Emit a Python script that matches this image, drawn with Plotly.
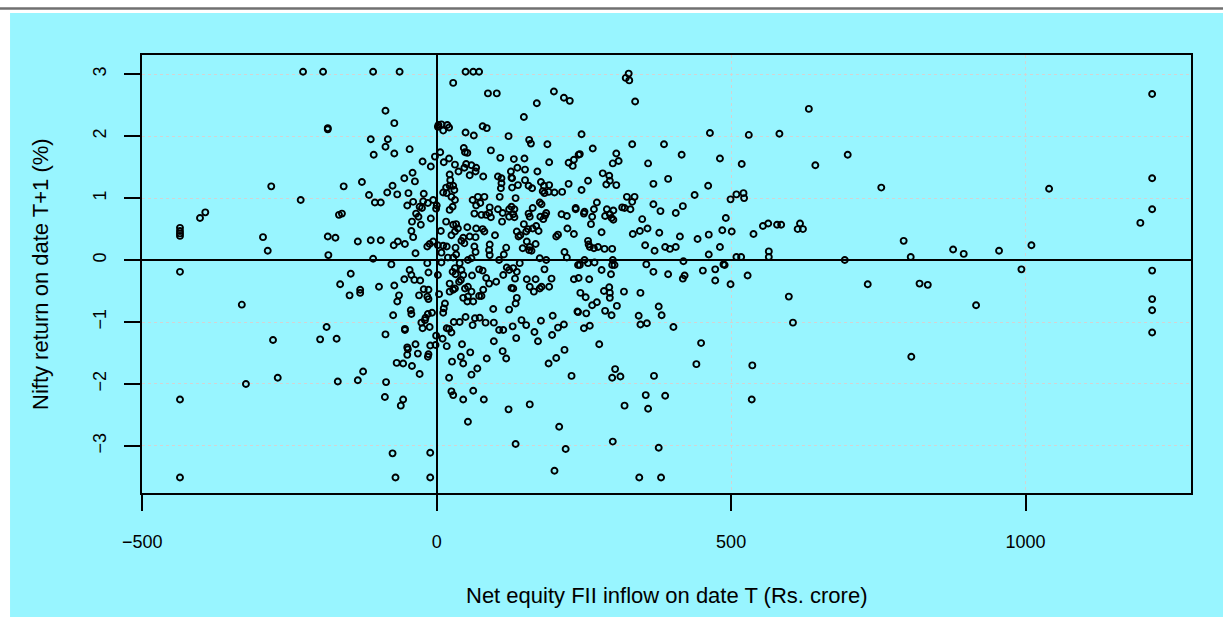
import plotly.graph_objects as go

# Net equity FII inflow on date T (Rs. crore)
inflow = [
    -227, -193, -108, -63, -87, -72, -185, -185, -112, -83,
    -87, -46, -107, -72, -3, -24, -10, -41, -55, -37,
    -127, -75, -281, -158, -84, -115, -67, -48, -22, -231,
    -105, -95, -40, -50, -23, -6, -29, -25, -15, -1,
    -35, -31, -10, -166, -161, -402, -393, -436, -436, -436,
    -436, -42, -27, -43, -40, -295, -185, -172, -134, -112,
    -95, -66, -54, -73, -16, -12, -6, -287, -36, 8,
    -184, -108, -436, -77, -16, -46, -43, -146, -14, -55,
    -38, -28, -164, -98, -72, -22, -14, -130, -130, -148,
    -64, -30, -16, -14, -67, -331, -44, -43, -74, -8,
    -15, -19, -20, -26, -24, -12, -187, -54, -54, -87,
    -1, -278, -198, -170, -36, -50, -49, -11, -2, -32,
    -50, -14, -15, -68, -57, -42, -125, -29, -270, -134,
    -168, -86, -324, -88, -57, -61, -436, -75, -11, -436,
    -70, -11, 49, 62, 72, 28, 87, 102, 199, 216,
    226, 170, 148, 2, 3, 8, 11, 18, 21, 78,
    85, 49, 63, 122, 157, 160, 188, 46, 48, 52,
    6, 92, 108, 21, 12, 131, 149, 191, 241, 224,
    233, 231, 31, 50, 59, 47, 67, 137, 150, 126,
    127, 37, 66, 56, 79, 171, 22, 23, 22, 104,
    110, 110, 109, 128, 128, 138, 150, 156, 162, 177,
    182, 191, 224, 16, 28, 30, 180, 183, 190, 200,
    213, 11, 17, 25, 0, 31, 27, 22, 61, 70,
    74, 67, 64, 81, 107, 134, 175, 178, 90, 104,
    89, 92, 84, 76, 112, 123, 127, 132, 130, 123,
    132, 156, 163, 158, 176, 184, 186, 181, 212, 221,
    236, 236, 16, 28, 33, 31, 25, 36, 45, 42,
    47, 7, 52, 67, 56, 66, 78, 81, 99, 111,
    136, 142, 139, 152, 155, 163, 173, 169, 148, 203,
    206, 222, 233, 2, 11, 17, 32, 33,
    64, 66, 90, 89, 118, 114, 106, 146, 153, 158,
    157, 161, 168, 175, 186, 217, 221, 19, 28, 53, 90,
    8, 39, 59, 141, 2, 4, 31, 27, 42, 32,
    45, 41, 38, 31, 28, 22, 22, 60, 72, 78,
    84, 89, 101, 79, 72, 76, 62, 53, 52, 45,
    48, 53, 59, 14, 12, 11, 123, 119, 130, 136,
    133, 127, 130, 136, 134, 123, 113, 153, 168, 195,
    158, 165, 175, 178, 191, 183, 233, 240, 96, 49,
    61, 73, 39, 29, 21, 17, 25, 65, 83, 97,
    97, 129, 106, 113, 135, 144, 152, 166, 177, 172,
    197, 196, 206, 216, 239, 10, 17, 43, 57, 41,
    45, 26, 85, 69, 59, 112, 118, 190, 203, 217,
    229, 21, 25, 28, 45, 62, 80, 122, 158, 53,
    208, 134, 219, 200, 326, 321, 327, 337, 246, 464,
    265, 332, 386, 243, 305, 309, 299, 359, 416, 481,
    282, 293, 288, 305, 294, 257, 246, 368, 393, 461,
    438, 323, 336, 332, 272, 368, 418, 267, 251, 250,
    289, 300, 315, 319, 329, 380, 406, 264, 262, 286,
    297, 300, 294, 349, 280, 333, 345, 358, 378, 413,
    443, 462, 485, 257, 258, 260, 267, 274, 285, 298,
    354, 370, 388, 396, 406, 481, 462, 251, 243, 257,
    268, 299, 298, 302, 356, 368, 393, 419, 421, 418,
    452, 473, 473, 487, 280, 296, 259, 241, 244, 253,
    264, 272, 240, 254, 284, 293, 294, 294, 318, 306,
    286, 297, 346, 377, 382, 343, 346, 357, 402, 250,
    260, 276, 449, 441, 303, 298, 312, 369, 355, 388,
    319, 359, 299, 377, 344, 381, 1215, 632, 530, 582,
    698, 518, 643, 755, 1040, 1215, 1215, 1195, 509, 521,
    522, 499, 491, 501, 538, 554, 563, 578, 585, 613,
    617, 622, 509, 517, 564, 564, 693, 793, 805, 877,
    895, 955, 1010, 993, 1215, 489, 528, 499, 598, 605,
    732, 820, 834, 916, 1215, 1215, 1215, 806, 536, 535,
]

# Nifty return on date T+1 (%)
nifty_return = [
    3.04, 3.04, 3.04, 3.04, 2.41, 2.21, 2.13, 2.11, 1.95, 1.95,
    1.83, 1.79, 1.70, 1.72, 1.67, 1.59, 1.51, 1.41, 1.32, 1.27,
    1.26, 1.20, 1.19, 1.19, 1.09, 1.05, 1.06, 1.08, 1.07, 0.97,
    0.93, 0.93, 0.94, 0.88, 0.95, 0.97, 0.86, 0.84, 0.92, 0.83,
    0.75, 0.70, 0.67, 0.73, 0.75, 0.68, 0.77, 0.52, 0.47, 0.43,
    0.39, 0.62, 0.57, 0.47, 0.37, 0.37, 0.38, 0.36, 0.30, 0.32,
    0.32, 0.30, 0.26, 0.24, 0.22, 0.26, 0.30, 0.15, 0.11, 0.12,
    0.08, 0.02, -0.19, -0.07, -0.05, -0.16, -0.24, -0.22, -0.20, -0.31,
    -0.32, -0.33, -0.39, -0.43, -0.41, -0.47, -0.48, -0.48, -0.53, -0.57,
    -0.57, -0.57, -0.59, -0.63, -0.67, -0.72, -0.81, -0.87, -0.89, -0.85,
    -0.87, -0.93, -0.97, -1.01, -1.10, -1.08, -1.08, -1.11, -1.13, -1.20,
    -1.22, -1.29, -1.28, -1.27, -1.36, -1.41, -1.44, -1.38, -1.37, -1.51,
    -1.53, -1.52, -1.56, -1.66, -1.67, -1.71, -1.80, -1.84, -1.90, -1.94,
    -1.96, -1.97, -2.00, -2.21, -2.25, -2.35, -2.25, -3.12, -3.11, -3.51,
    -3.51, -3.51, 3.04, 3.04, 3.04, 2.86, 2.69, 2.69, 2.72, 2.62,
    2.57, 2.53, 2.31, 2.15, 2.18, 2.19, 2.09, 2.18, 2.14, 2.16,
    2.13, 2.06, 2.01, 2.00, 1.94, 1.88, 1.87, 1.81, 1.74, 1.73,
    1.74, 1.77, 1.65, 1.64, 1.58, 1.63, 1.64, 1.58, 1.70, 1.57,
    1.62, 1.52, 1.54, 1.55, 1.53, 1.49, 1.49, 1.49, 1.46, 1.43,
    1.33, 1.43, 1.43, 1.37, 1.35, 1.43, 1.38, 1.29, 1.20, 1.35,
    1.32, 1.24, 1.16, 1.32, 1.17, 1.21, 1.29, 1.20, 1.16, 1.26,
    1.20, 1.21, 1.23, 1.17, 1.20, 1.13, 1.11, 1.08, 1.10, 1.09,
    1.10, 1.09, 1.08, 1.02, 0.88, 0.97, 0.86, 0.81, 0.97, 1.02,
    0.92, 0.88, 0.75, 1.02, 1.02, 1.00, 0.93, 0.90, 0.85, 0.82,
    0.76, 0.69, 0.73, 0.73, 0.76, 0.82, 0.86, 0.82, 0.74, 0.70,
    0.69, 0.75, 0.84, 0.70, 0.70, 0.72, 0.76, 0.66, 0.74, 0.71,
    0.82, 0.84, 0.62, 0.57, 0.58, 0.46, 0.40, 0.51, 0.36, 0.31,
    0.27, 0.47, 0.53, 0.51, 0.38, 0.37, 0.50, 0.46, 0.40, 0.62,
    0.46, 0.40, 0.38, 0.46, 0.50, 0.51, 0.47, 0.55, 0.58, 0.38,
    0.41, 0.51, 0.42, 0.24, 0.23, 0.22, 0.20, 0.09,
    0.22, 0.13, 0.25, 0.16, 0.20, 0.09, 0.00, 0.19, 0.30, 0.21,
    0.16, 0.15, 0.26, 0.03, 0.00, 0.13, 0.04, 0.04, 0.04, 0.00, 0.08,
    -0.04, -0.05, 0.03, -0.05, -0.24, -0.55, -0.13, -0.19, -0.16, -0.23,
    -0.24, -0.32, -0.35, -0.46, -0.48, -0.51, -0.38, -0.25, -0.15, -0.17,
    -0.29, -0.38, -0.35, -0.48, -0.58, -0.58, -0.67, -0.59, -0.67, -0.61,
    -0.46, -0.43, -0.51, -0.70, -0.78, -0.85, -0.16, -0.12, -0.13, -0.19,
    -0.30, -0.45, -0.46, -0.61, -0.70, -0.80, -0.24, -0.31, -0.31, -0.30,
    -0.43, -0.51, -0.46, -0.43, -0.43, -0.15, -0.31, -0.08, -0.79, -0.92,
    -1.05, -0.93, -1.00, -1.00, -1.11, -1.10, -1.17, -0.94, -1.01, -1.01,
    -1.31, -1.07, -1.13, -1.13, -1.26, -0.97, -1.05, -1.16, -0.98, -1.31,
    -0.90, -1.21, -1.09, -1.04, -0.83, -1.27, -1.39, -1.36, -1.49, -1.56,
    -1.67, -1.64, -1.59, -1.75, -1.85, -1.47, -1.59, -1.67, -1.58, -1.45,
    -1.87, -1.90, -2.12, -2.18, -2.25, -2.11, -2.25, -2.41, -2.33, -2.61,
    -2.69, -2.97, -3.05, -3.40, 3.01, 2.94, 2.90, 2.56, 2.03, 2.05,
    1.80, 1.87, 1.87, 1.71, 1.72, 1.60, 1.56, 1.56, 1.70, 1.64,
    1.40, 1.36, 1.22, 1.21, 1.28, 1.28, 1.13, 1.23, 1.31, 1.20,
    1.05, 1.02, 1.02, 0.94, 0.93, 0.90, 0.87, 0.82, 0.78, 0.75,
    0.82, 0.80, 0.85, 0.84, 0.82, 0.79, 0.76, 0.70, 0.58, 0.71,
    0.68, 0.65, 0.74, 0.66, 0.45, 0.42, 0.47, 0.51, 0.44, 0.38,
    0.34, 0.41, 0.48, 0.31, 0.25, 0.21, 0.19, 0.21, 0.18, 0.18,
    0.24, 0.15, 0.21, 0.18, 0.21, 0.21, 0.09, 0.00, -0.08, -0.05,
    -0.04, 0.00, -0.08, -0.08, -0.07, -0.19, -0.23, -0.02, -0.25, -0.30,
    -0.17, -0.15, -0.33, -0.07, -0.16, -0.23, -0.31, -0.29, -0.53, -0.60,
    -0.73, -0.68, -0.84, -0.86, -0.50, -0.44, -0.53, -0.61, -0.51, -0.74,
    -0.82, -0.89, -0.53, -0.75, -0.89, -0.90, -1.04, -1.02, -1.08, -1.10,
    -1.06, -1.36, -1.34, -1.68, -1.76, -1.90, -1.88, -1.87, -2.18, -2.19,
    -2.35, -2.40, -2.93, -3.03, -3.51, -3.51, 2.68, 2.44, 2.02, 2.04,
    1.70, 1.55, 1.53, 1.17, 1.15, 1.32, 0.82, 0.60, 1.06, 1.08,
    1.00, 0.98, 0.68, 0.46, 0.42, 0.55, 0.59, 0.57, 0.57, 0.50,
    0.59, 0.50, 0.05, 0.05, 0.14, 0.05, 0.00, 0.31, 0.05, 0.17,
    0.10, 0.15, 0.24, -0.15, -0.17, -0.08, -0.25, -0.39, -0.59, -1.01,
    -0.39, -0.38, -0.40, -0.73, -0.63, -0.81, -1.17, -1.56, -1.70, -2.25,
]

x_ticks = [-500, 0, 500, 1000]
x_tick_labels = ["\u2212500", "0", "500", "1000"]
y_ticks = [-3, -2, -1, 0, 1, 2, 3]
y_tick_labels = ["\u22123", "\u22122", "\u22121", "0", "1", "2", "3"]

assert len(inflow) == len(nifty_return), (len(inflow), len(nifty_return))

BG = "#98F5FF"
FONT = "Liberation Sans, Arial, Helvetica, sans-serif"

fig = go.Figure()
fig.add_trace(go.Scatter(
    x=inflow, y=nifty_return, mode="markers",
    marker=dict(symbol="circle-open", size=6, color="black",
                line=dict(color="black", width=1.9)),
    showlegend=False, hoverinfo="x+y",
))

axis_common = dict(
    showline=True, linecolor="black", linewidth=2, mirror=True,
    ticks="outside", ticklen=16, tickwidth=2, tickcolor="black",
    showgrid=True, gridcolor="#d3d3d3", griddash="dot", gridwidth=1,
    zeroline=True, zerolinecolor="black", zerolinewidth=2,
    tickfont=dict(family=FONT, size=18, color="black"),
)

fig.update_xaxes(range=[-500.5, 1281], tickmode="array", tickvals=x_ticks,
                 ticktext=x_tick_labels, ticklabelstandoff=15, **axis_common)
fig.update_yaxes(range=[-3.76, 3.31], tickmode="array", tickvals=y_ticks,
                 ticktext=y_tick_labels, tickangle=-90, ticklabelstandoff=11,
                 **axis_common)

fig.update_layout(
    width=1223, height=617, autosize=False,
    margin=dict(l=142, r=32, t=55, b=124, pad=0),
    paper_bgcolor=BG, plot_bgcolor=BG,
    font=dict(family=FONT, color="black"),
    shapes=[
        # white page strip above the coloured panel
        dict(type="rect", xref="paper", yref="paper", x0=-0.3, x1=1.2,
             y0=1.0959, y1=1.3, fillcolor="white", line=dict(width=0), layer="below"),
        # white page strip to the left of the panel
        dict(type="rect", xref="paper", yref="paper", x0=-0.3, x1=-0.1258,
             y0=-0.5, y1=1.3, fillcolor="white", line=dict(width=0), layer="below"),
        # grey rule at the top of the page
        dict(type="line", xref="paper", yref="paper", x0=-0.3, x1=1.2,
             y0=1.1062, y1=1.1062, line=dict(color="#707070", width=2.5)),
    ],
    annotations=[
        dict(text="Net equity FII inflow on date T (Rs. crore)", xref="paper", yref="paper",
             x=0.5, y=0, yshift=-102, xanchor="center", yanchor="middle",
             showarrow=False, font=dict(family=FONT, size=22, color="black")),
        dict(text="Nifty return on date T+1 (%)", xref="paper", yref="paper",
             x=0, y=0.5, xshift=-102, xanchor="center", yanchor="middle", textangle=-90,
             showarrow=False, font=dict(family=FONT, size=22, color="black")),
    ],
)

fig.write_html(
    "out.html",
    config={"displayModeBar": False},
    post_script="document.body.style.margin='0';document.body.style.overflow='hidden';",
)
